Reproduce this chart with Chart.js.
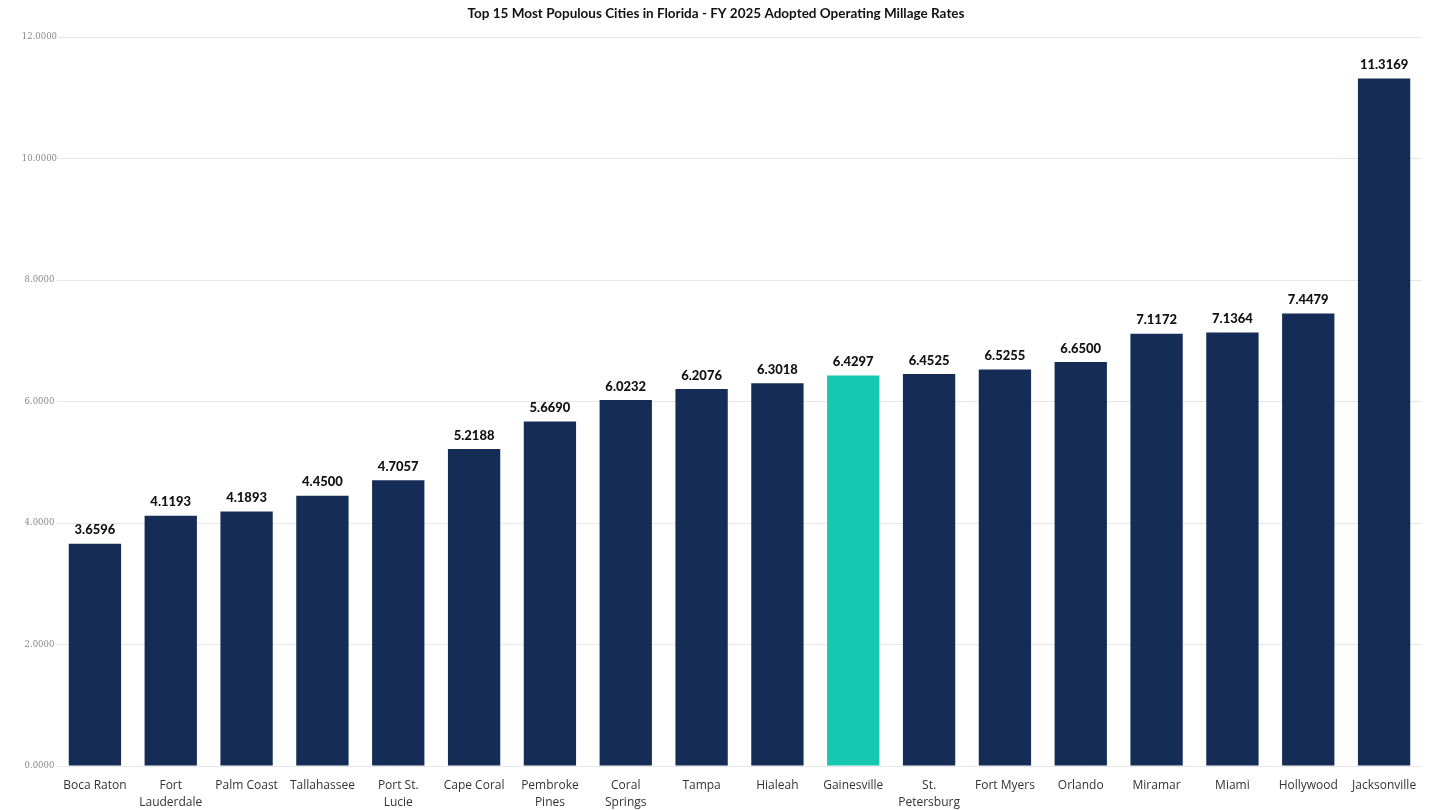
<!DOCTYPE html>
<html><head><meta charset="utf-8">
<script src="https://cdn.jsdelivr.net/npm/chart.js@4.4.0/dist/chart.umd.min.js"></script>
<style>html,body{margin:0;padding:0;background:#fff;}canvas{display:block;}</style>
</head><body>
<canvas id="c" width="1432" height="810"></canvas>
<script>
const titleText = "Top 15 Most Populous Cities in Florida - FY 2025 Adopted Operating Millage Rates";
const categories = [["Boca Raton"],["Fort","Lauderdale"],["Palm Coast"],["Tallahassee"],["Port St.","Lucie"],["Cape Coral"],["Pembroke","Pines"],["Coral","Springs"],["Tampa"],["Hialeah"],["Gainesville"],["St.","Petersburg"],["Fort Myers"],["Orlando"],["Miramar"],["Miami"],["Hollywood"],["Jacksonville"]];
const millageRates = [3.6596,4.1193,4.1893,4.4500,4.7057,5.2188,5.6690,6.0232,6.2076,6.3018,6.4297,6.4525,6.5255,6.6500,7.1172,7.1364,7.4479,11.3169];
const highlightCity = "Gainesville";
const yTicks = [0,2,4,6,8,10,12];

const NAVY = "#142c56", TEAL = "#15c8b0";
const barColors = categories.map(c => c.join(" ") === highlightCity ? TEAL : NAVY);

const labelPlugin = {
  id: "valLabels",
  afterDatasetsDraw(chart) {
    const ctx = chart.ctx;
    const meta = chart.getDatasetMeta(0);
    ctx.save();
    ctx.font = "900 13px Lato, 'Open Sans', sans-serif";
    ctx.fillStyle = "#111";
    ctx.textAlign = "center";
    ctx.textBaseline = "bottom";
    meta.data.forEach((el, i) => {
      ctx.fillText(millageRates[i].toFixed(4), el.x, el.y - 7);
    });
    ctx.fillStyle = "#111";
    ctx.font = "bold 13.5px Lato, 'Open Sans', sans-serif";
    ctx.textBaseline = "middle";
    ctx.fillText(titleText, 716, 14);
    ctx.restore();
  }
};

new Chart(document.getElementById("c"), {
  type: "bar",
  data: {
    labels: categories,
    datasets: [{ data: millageRates, backgroundColor: barColors, barPercentage: 0.69, categoryPercentage: 1.0 }]
  },
  options: {
    responsive: false,
    animation: false,
    layout: { padding: { top: 37, right: 10, left: 0, bottom: 0 } },
    plugins: { legend: { display: false }, title: { display: false }, tooltip: { enabled: false } },
    scales: {
      x: {
        grid: { display: false },
        border: { display: false },
        ticks: { color: "#333", font: { family: "'Open Sans', sans-serif", size: 12, lineHeight: 1.4 }, padding: 3, maxRotation: 0, autoSkip: false },
        afterFit(s) { s.height = 44; }
      },
      y: {
        min: 0, max: 12,
        afterBuildTicks(s) { s.ticks = yTicks.map(v => ({ value: v })); },
        grid: { color: "#e6e6e6", lineWidth: 1, drawTicks: false },
        border: { display: false },
        ticks: { color: "#888", font: { family: "'DejaVu Serif', serif", size: 8.5 }, crossAlign: "center", padding: 0, callback: v => Number(v).toFixed(4) },
        afterFit(s) { s.width = 57; }
      }
    }
  },
  plugins: [labelPlugin]
});
</script>
</body></html>
